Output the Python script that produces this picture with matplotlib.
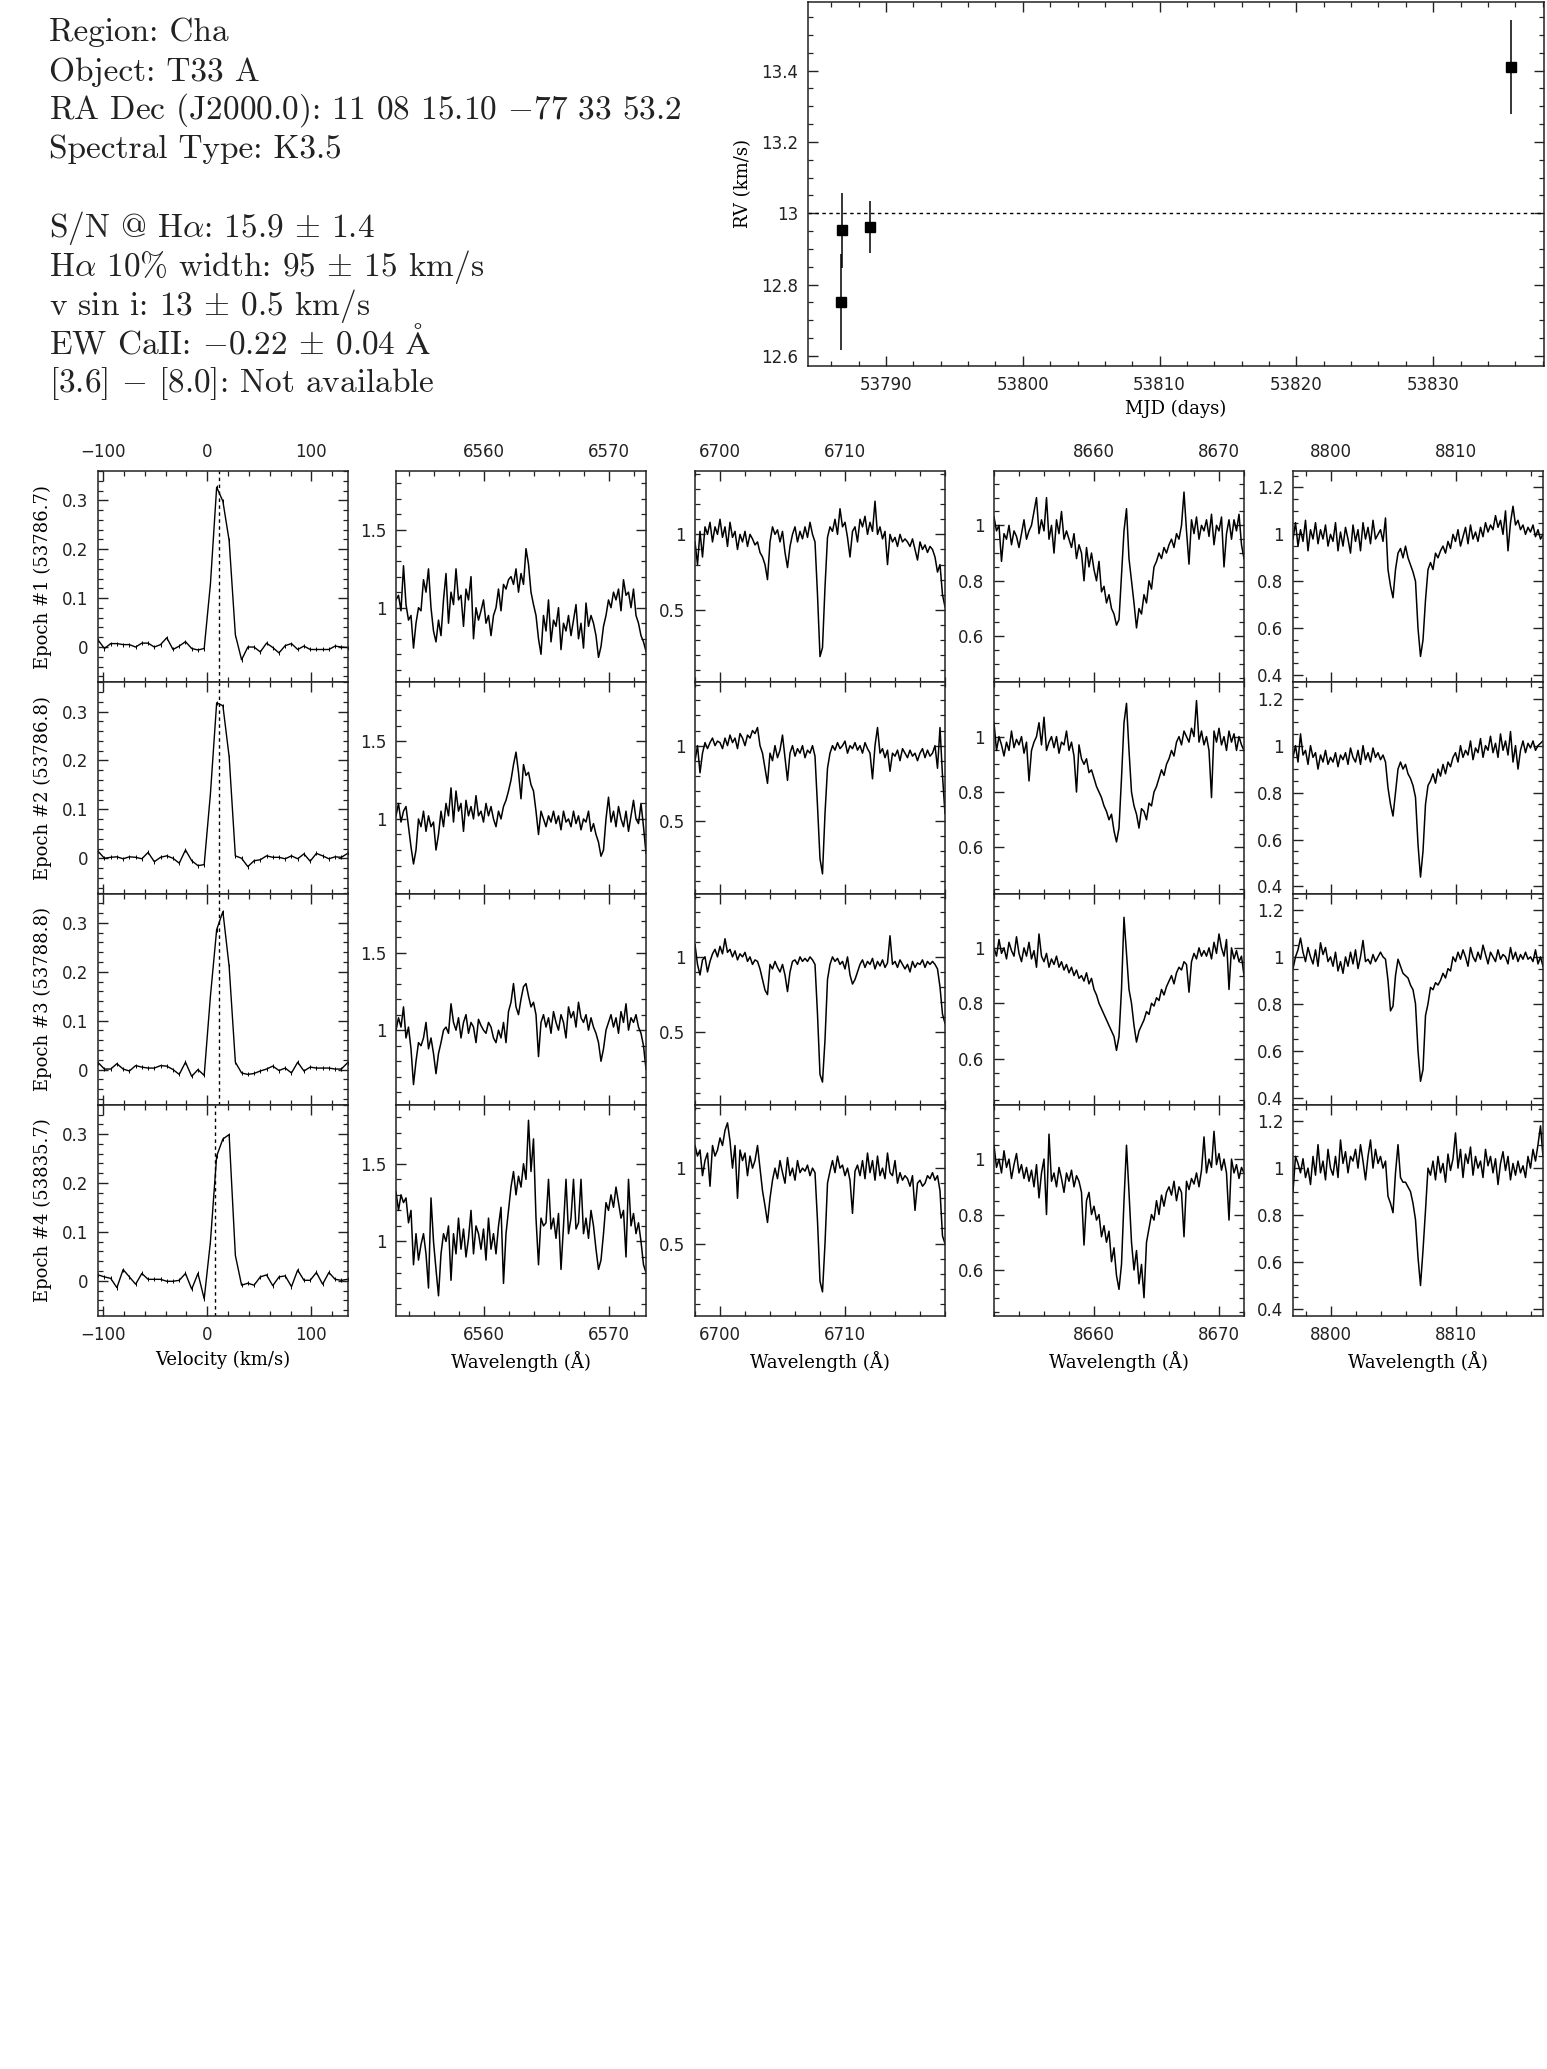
import matplotlib
matplotlib.use("Agg")
import matplotlib.pyplot as plt
import numpy as np
from matplotlib.ticker import MultipleLocator, FuncFormatter

# ---- header text ----
INFO_LINES = [
    "Region: Cha",
    "Object: T33 A",
    "RA Dec (J2000.0): 11 08 15.10 $-$77 33 53.2",
    "Spectral Type: K3.5",
    "S/N @ H$\\alpha$: 15.9 $\\pm$ 1.4",
    "H$\\alpha$ 10% width: 95 $\\pm$ 15 km/s",
    "v sin i: 13 $\\pm$ 0.5 km/s",
    "EW CaII: $-$0.22 $\\pm$ 0.04 $\\mathrm{\\AA}$",
    "[3.6] $-$ [8.0]: Not available",
]

# ---- radial velocity ----
RV_MJD = [53786.7, 53786.8, 53788.8, 53835.7]
RV_VAL = [12.752, 12.952, 12.961, 13.410]
RV_ERR = [0.135, 0.106, 0.073, 0.132]
RV_MEAN = 13.0

# ---- H-alpha cross-correlation profiles ----
EPOCH_LABELS = ["Epoch #1 (53786.7)", "Epoch #2 (53786.8)",
                "Epoch #3 (53788.8)", "Epoch #4 (53835.7)"]
CCF_LINE = [11.8, 11.8, 11.8, 7.3]

CCF_1 = [0.014, -0.003, 0.007, 0.007, 0.005, 0.005, 0.000, 0.008, 0.008, 0.000,
         0.005, 0.019, -0.005, 0.002, 0.011, -0.003, -0.006, -0.003, 0.129, 0.327,
         0.298, 0.218, 0.025, -0.026, 0.000, 0.000, -0.010, 0.008, -0.001, -0.012,
         0.003, 0.007, -0.005, 0.002, -0.005, -0.005, -0.005, -0.005, 0.002, 0.000, -0.001]
CCF_2 = [0.014, 0.000, 0.002, 0.003, -0.001, 0.003, 0.002, -0.001, 0.012, -0.007,
         0.002, 0.005, 0.000, -0.010, 0.017, -0.005, -0.015, -0.013, 0.132, 0.318,
         0.312, 0.208, 0.005, 0.000, -0.017, -0.005, -0.003, 0.005, 0.002, 0.002,
         -0.001, 0.005, -0.001, 0.009, -0.006, 0.010, 0.005, -0.001, 0.003, 0.002, 0.010]
CCF_3 = [0.014, 0.001, 0.001, 0.012, 0.001, -0.003, 0.008, 0.005, 0.003, 0.003,
         0.008, 0.007, 0.000, -0.010, 0.015, -0.014, 0.000, -0.012, 0.150, 0.286,
         0.323, 0.211, 0.015, -0.007, -0.010, -0.008, -0.003, 0.001, 0.007, -0.002,
         0.003, -0.007, 0.015, -0.003, 0.005, 0.003, 0.003, 0.003, 0.001, 0.001, 0.014]
CCF_4 = [0.012, 0.008, 0.005, -0.014, 0.023, 0.008, -0.007, 0.015, 0.003, 0.003,
         0.003, -0.001, -0.001, 0.001, 0.015, -0.017, 0.015, -0.037, 0.080, 0.255,
         0.290, 0.299, 0.052, -0.009, -0.005, -0.009, 0.008, 0.012, -0.010, 0.008,
         0.010, -0.012, 0.022, 0.001, 0.001, 0.017, -0.007, 0.017, 0.003, 0.001, 0.003]
VEL_START, VEL_END = -104.6, 134.8

# ---- spectra: 101 samples over 20 A each ----
HA_START, LI_START, CA_START, MG_START = 6553.0, 6698.0, 8652.0, 8797.0
SPAN = 20.0

HA_1 = [1.05, 1.08, 0.98, 1.27, 1.02, 0.92, 0.95, 0.74, 0.90, 1.00,
        0.98, 1.18, 1.10, 1.25, 1.00, 0.85, 0.78, 0.92, 0.82, 1.05,
        1.22, 0.90, 1.10, 1.02, 1.25, 1.05, 1.08, 0.88, 1.12, 1.05,
        1.20, 0.80, 1.00, 0.92, 0.98, 1.05, 0.90, 0.95, 0.82, 0.95,
        1.00, 1.12, 0.98, 1.15, 1.12, 1.18, 1.20, 1.15, 1.25, 1.10,
        1.22, 1.15, 1.38, 1.28, 1.10, 1.02, 0.95, 0.80, 0.70, 0.95,
        0.85, 1.05, 0.78, 0.92, 0.88, 1.00, 0.73, 0.90, 0.85, 0.95,
        0.82, 0.92, 1.02, 0.80, 0.90, 0.74, 1.03, 0.88, 0.95, 0.90,
        0.82, 0.68, 0.75, 0.88, 0.95, 1.05, 1.00, 1.10, 1.05, 1.12,
        0.98, 1.18, 1.08, 1.10, 1.00, 1.12, 0.95, 0.90, 0.82, 0.78, 0.72]
HA_2 = [1.02, 1.10, 0.98, 1.05, 1.08, 0.95, 0.82, 0.71, 0.80, 1.00,
        0.95, 1.05, 0.92, 1.02, 0.95, 0.98, 0.80, 0.90, 1.05, 0.95,
        1.10, 1.02, 1.20, 0.98, 1.18, 1.05, 1.10, 0.92, 1.12, 1.02,
        1.08, 1.00, 1.15, 1.02, 1.05, 0.98, 1.10, 1.02, 1.08, 1.00,
        0.95, 1.05, 1.00, 1.08, 1.12, 1.18, 1.25, 1.35, 1.43, 1.30,
        1.13, 1.35, 1.28, 1.30, 1.22, 1.18, 1.05, 0.90, 1.05, 1.00,
        0.95, 1.02, 0.98, 1.05, 0.97, 1.02, 0.93, 1.05, 0.98, 1.00,
        0.95, 1.05, 0.97, 1.02, 0.93, 1.00, 0.98, 1.05, 0.92, 0.97,
        0.90, 0.85, 0.76, 0.80, 1.00, 1.14, 0.98, 1.05, 0.95, 1.08,
        1.00, 0.95, 1.05, 0.92, 1.02, 1.12, 1.00, 0.97, 1.10, 0.95, 0.78]
HA_3 = [1.00, 1.08, 1.02, 1.15, 0.95, 1.02, 0.88, 0.65, 0.80, 0.92,
        0.90, 0.95, 1.05, 0.88, 0.95, 0.85, 0.72, 0.85, 0.92, 1.00,
        1.02, 0.98, 1.17, 1.05, 1.00, 1.08, 0.95, 1.05, 1.10, 0.98,
        1.05, 1.02, 0.92, 1.07, 1.03, 1.00, 0.98, 1.05, 1.02, 0.95,
        0.92, 1.00, 0.95, 1.05, 0.92, 1.12, 1.18, 1.30, 1.15, 1.10,
        1.20, 1.28, 1.30, 1.22, 1.15, 1.18, 1.10, 0.83, 1.05, 1.10,
        1.02, 1.08, 0.98, 1.12, 1.05, 1.00, 1.10, 1.05, 0.95, 1.15,
        1.08, 1.12, 1.02, 1.18, 1.08, 1.05, 1.10, 1.00, 1.08, 1.02,
        0.98, 0.92, 0.80, 0.88, 1.00, 1.05, 1.10, 1.02, 1.08, 0.98,
        1.12, 1.05, 1.17, 1.00, 1.08, 1.05, 1.10, 1.02, 0.98, 0.90, 0.75]
HA_4 = [1.32, 1.20, 1.30, 1.25, 1.28, 1.12, 1.20, 0.85, 1.05, 0.88,
        0.98, 1.05, 0.92, 0.70, 1.28, 1.00, 0.82, 0.65, 0.92, 1.05,
        1.00, 1.10, 0.75, 1.05, 0.92, 1.15, 0.95, 1.08, 0.90, 1.02,
        1.20, 0.92, 1.10, 1.05, 0.95, 1.08, 0.88, 1.15, 0.95, 1.05,
        0.92, 1.10, 1.22, 0.73, 1.05, 1.20, 1.35, 1.45, 1.30, 1.42,
        1.35, 1.50, 1.40, 1.78, 1.45, 1.66, 1.15, 0.85, 1.15, 1.10,
        1.12, 1.40, 1.08, 1.15, 1.02, 1.18, 0.82, 1.10, 1.40, 1.05,
        1.15, 1.40, 1.08, 1.12, 1.40, 1.05, 1.15, 1.02, 1.20, 1.10,
        0.95, 0.82, 0.88, 1.05, 1.25, 1.20, 1.30, 1.22, 1.35, 1.25,
        1.15, 1.20, 0.90, 1.40, 1.10, 1.18, 1.05, 1.12, 1.00, 0.85, 0.80]

LI_1 = [0.95, 0.80, 1.02, 0.85, 1.05, 1.00, 1.08, 0.95, 1.05, 1.00,
        1.10, 0.98, 1.05, 0.92, 1.08, 0.98, 1.02, 0.90, 1.00, 0.95,
        1.02, 0.92, 1.00, 0.97, 0.93, 0.95, 0.88, 0.85, 0.80, 0.70,
        0.95, 1.05, 1.00, 1.03, 0.95, 1.02, 0.88, 0.78, 0.92, 1.00,
        1.05, 0.95, 1.02, 0.97, 1.05, 0.98, 1.08, 1.00, 0.95, 0.60,
        0.19, 0.25, 0.65, 0.98, 1.05, 1.02, 1.10, 1.00, 1.17, 1.05,
        1.08, 0.98, 0.85, 1.02, 1.05, 0.95, 1.10, 1.05, 1.12, 1.00,
        1.08, 1.02, 1.22, 1.00, 1.05, 0.97, 1.02, 0.80, 1.00, 0.95,
        0.98, 0.92, 1.00, 0.95, 0.97, 0.95, 0.92, 0.97, 0.90, 0.83,
        0.95, 0.90, 0.93, 0.88, 0.92, 0.90, 0.85, 0.75, 0.80, 0.60, 0.52]
LI_2 = [0.90, 1.00, 0.82, 0.95, 1.02, 0.98, 1.02, 1.05, 1.00, 1.03,
        1.02, 0.98, 1.05, 1.00, 1.07, 1.02, 1.05, 0.98, 1.08, 1.05,
        1.00, 1.07, 1.05, 1.10, 1.08, 1.12, 1.00, 0.95, 0.85, 0.75,
        0.95, 0.90, 1.00, 0.92, 0.97, 1.07, 0.92, 0.77, 0.95, 1.00,
        0.93, 0.98, 0.95, 1.00, 0.92, 0.97, 0.95, 1.00, 0.93, 0.60,
        0.25, 0.15, 0.55, 0.85, 0.95, 1.00, 0.97, 1.02, 0.98, 1.00,
        1.03, 0.95, 1.00, 0.98, 1.02, 0.97, 1.00, 0.95, 1.02, 0.98,
        0.95, 0.78, 1.00, 1.12, 0.95, 0.98, 0.92, 0.97, 0.83, 0.95,
        0.93, 0.97, 0.90, 0.98, 0.95, 0.92, 0.97, 0.93, 0.95, 0.90,
        0.95, 0.98, 0.92, 0.97, 0.93, 0.95, 1.00, 0.85, 1.12, 0.80, 0.55]
LI_3 = [1.08, 0.95, 0.88, 0.98, 1.00, 0.90, 0.97, 1.02, 1.05, 1.00,
        1.07, 1.02, 1.12, 1.03, 1.05, 1.00, 1.04, 0.98, 1.02, 1.00,
        1.03, 0.97, 1.00, 0.95, 0.98, 0.97, 0.92, 0.85, 0.78, 0.75,
        0.95, 0.92, 0.97, 0.93, 0.90, 0.95, 0.88, 0.77, 0.90, 0.97,
        0.98, 0.95, 1.00, 0.97, 0.99, 0.97, 1.00, 0.98, 0.95, 0.62,
        0.22, 0.17, 0.45, 0.85, 0.95, 1.00, 0.97, 0.99, 0.95, 0.97,
        0.92, 1.00, 0.88, 0.82, 0.85, 0.90, 0.95, 0.98, 0.93, 0.97,
        0.95, 0.99, 0.92, 0.97, 0.94, 0.98, 0.93, 0.96, 1.14, 0.95,
        0.97, 0.93, 0.98, 0.95, 0.92, 0.95, 0.90, 0.97, 0.93, 0.96,
        0.95, 0.98, 0.93, 0.97, 0.95, 0.97, 0.95, 0.92, 0.80, 0.62, 0.56]
LI_4 = [1.15, 1.08, 1.12, 0.95, 1.05, 1.10, 0.88, 1.15, 1.08, 1.12,
        1.20, 1.15, 1.25, 1.30, 1.18, 1.00, 1.15, 0.80, 1.12, 1.05,
        1.10, 0.95, 1.08, 1.00, 1.05, 1.15, 1.00, 0.85, 0.75, 0.64,
        0.80, 0.92, 1.00, 0.93, 1.05, 0.97, 0.90, 1.07, 0.95, 1.00,
        0.92, 1.05, 0.97, 1.00, 0.98, 1.02, 0.95, 1.00, 0.97, 0.65,
        0.25, 0.18, 0.50, 0.90, 0.98, 1.05, 0.97, 1.08, 1.00, 1.02,
        0.95, 1.00, 0.92, 0.70, 0.98, 1.02, 0.95, 1.05, 0.93, 1.10,
        0.97, 1.05, 0.92, 1.08, 0.95, 1.00, 0.93, 1.10, 0.97, 0.95,
        1.05, 0.90, 0.97, 0.92, 0.95, 0.93, 0.88, 0.95, 0.72, 0.90,
        0.92, 0.88, 0.90, 0.95, 0.93, 0.97, 0.92, 0.95, 0.85, 0.55, 0.50]

CA_1 = [1.03, 0.98, 1.00, 0.87, 0.97, 0.95, 1.00, 0.93, 0.98, 0.96,
        0.92, 0.97, 1.02, 0.95, 0.98, 1.00, 1.05, 1.10, 0.97, 1.02,
        0.98, 1.10, 0.95, 1.00, 0.90, 1.02, 0.97, 1.05, 0.95, 0.98,
        0.95, 0.92, 0.97, 0.88, 0.93, 0.90, 0.80, 0.92, 0.85, 0.90,
        0.84, 0.80, 0.87, 0.76, 0.78, 0.72, 0.75, 0.70, 0.68, 0.64,
        0.66, 0.82, 0.98, 1.06, 0.88, 0.80, 0.72, 0.63, 0.70, 0.68,
        0.75, 0.72, 0.80, 0.77, 0.85, 0.87, 0.90, 0.88, 0.92, 0.90,
        0.93, 0.95, 0.92, 0.97, 0.95, 1.00, 1.12, 0.98, 0.86, 1.02,
        0.97, 1.03, 0.95, 1.00, 0.98, 1.02, 0.96, 1.04, 0.93, 1.00,
        0.98, 1.03, 0.85, 0.97, 1.02, 0.95, 1.02, 0.98, 1.04, 0.93, 0.88]
CA_2 = [1.05, 0.95, 1.00, 0.97, 0.93, 0.98, 0.95, 1.02, 0.96, 0.99,
        0.97, 1.00, 0.94, 0.98, 0.84, 0.95, 0.98, 1.00, 1.05, 0.97,
        1.07, 0.95, 0.98, 1.00, 0.96, 1.00, 0.94, 0.98, 0.97, 1.02,
        0.95, 0.98, 0.93, 0.80, 0.97, 0.92, 0.90, 0.92, 0.87, 0.88,
        0.85, 0.82, 0.80, 0.78, 0.75, 0.73, 0.70, 0.72, 0.66, 0.62,
        0.67, 0.85, 1.05, 1.12, 0.95, 0.80, 0.75, 0.72, 0.67, 0.74,
        0.73, 0.70, 0.76, 0.75, 0.80, 0.82, 0.85, 0.88, 0.86, 0.90,
        0.92, 0.95, 0.93, 0.98, 1.00, 0.97, 1.02, 1.00, 0.98, 1.03,
        1.00, 1.13, 0.98, 1.02, 0.97, 1.00, 0.95, 0.78, 1.02, 0.98,
        1.03, 0.97, 1.00, 0.95, 1.02, 0.98, 1.01, 0.95, 1.00, 0.97, 0.95]
CA_3 = [1.00, 0.97, 1.03, 0.98, 1.00, 0.96, 1.02, 0.99, 0.97, 1.04,
        0.98, 0.95, 1.00, 0.97, 1.02, 0.96, 0.99, 0.93, 1.05, 0.97,
        0.95, 0.98, 0.93, 0.96, 0.94, 0.97, 0.93, 0.95, 0.92, 0.94,
        0.91, 0.93, 0.90, 0.92, 0.89, 0.90, 0.88, 0.91, 0.87, 0.89,
        0.85, 0.83, 0.80, 0.78, 0.76, 0.74, 0.72, 0.70, 0.68, 0.63,
        0.68, 0.85, 1.11, 0.98, 0.85, 0.80, 0.72, 0.66, 0.70, 0.72,
        0.74, 0.77, 0.76, 0.80, 0.79, 0.82, 0.81, 0.85, 0.83, 0.86,
        0.88, 0.90, 0.87, 0.91, 0.93, 0.92, 0.95, 0.94, 0.84, 0.95,
        0.98, 0.96, 1.00, 0.97, 0.99, 0.97, 1.00, 0.96, 1.02, 0.98,
        1.05, 1.00, 0.97, 1.03, 0.85, 1.00, 0.96, 0.99, 0.95, 0.97, 0.90]
CA_4 = [1.05, 0.97, 1.00, 0.95, 1.03, 0.97, 1.00, 0.93, 0.98, 1.02,
        0.95, 0.98, 0.93, 0.97, 0.92, 0.96, 0.90, 0.98, 0.86, 0.95,
        1.00, 0.80, 1.09, 0.92, 0.95, 0.90, 0.97, 0.93, 0.88, 0.95,
        0.92, 0.96, 0.90, 0.94, 0.92, 0.88, 0.69, 0.85, 0.88, 0.80,
        0.83, 0.78, 0.80, 0.72, 0.76, 0.70, 0.74, 0.63, 0.68, 0.58,
        0.53, 0.62, 0.85, 1.05, 0.88, 0.70, 0.60, 0.67, 0.55, 0.62,
        0.50, 0.70, 0.75, 0.80, 0.78, 0.85, 0.80, 0.87, 0.83, 0.88,
        0.90, 0.87, 0.92, 0.85, 0.90, 0.88, 0.72, 0.92, 0.89, 0.93,
        0.91, 0.95, 0.90, 0.96, 1.08, 0.95, 1.00, 0.97, 1.10, 0.98,
        1.02, 0.96, 1.00, 0.95, 0.78, 1.00, 0.95, 0.98, 0.93, 0.97, 0.95]

MG_1 = [0.98, 1.05, 0.95, 1.02, 0.97, 1.06, 0.93, 1.02, 0.98, 1.05,
        0.96, 1.02, 0.98, 1.04, 0.95, 1.00, 0.97, 1.05, 0.93, 1.01,
        0.95, 1.03, 0.98, 0.92, 1.04, 0.97, 1.02, 0.93, 1.05, 0.98,
        1.03, 0.96, 1.06, 0.98, 1.00, 1.02, 0.97, 1.07, 0.85, 0.78,
        0.73, 0.85, 0.92, 0.94, 0.90, 0.95, 0.90, 0.87, 0.84, 0.80,
        0.60, 0.48, 0.55, 0.72, 0.85, 0.88, 0.85, 0.92, 0.90, 0.93,
        0.95, 0.92, 0.97, 0.94, 1.00, 0.97, 1.02, 0.95, 0.99, 1.03,
        0.96, 1.04, 0.98, 1.01, 0.97, 1.03, 0.99, 1.05, 1.01, 1.04,
        1.02, 1.08, 1.03, 1.06, 1.00, 1.10, 0.93, 1.05, 1.12, 1.04,
        1.06, 1.02, 1.04, 1.00, 1.03, 1.01, 1.04, 0.99, 1.02, 0.98, 1.00]
MG_2 = [0.95, 1.00, 0.93, 1.05, 0.96, 0.98, 0.92, 1.00, 0.95, 0.97,
        0.90, 0.96, 0.93, 0.98, 0.92, 0.95, 0.93, 0.97, 0.91, 0.96,
        0.94, 0.97, 0.92, 0.99, 0.95, 0.93, 0.98, 0.92, 1.00, 0.94,
        0.97, 0.93, 0.99, 0.95, 0.97, 0.94, 0.96, 0.93, 0.82, 0.75,
        0.70, 0.80, 0.90, 0.93, 0.90, 0.92, 0.88, 0.86, 0.83, 0.78,
        0.58, 0.44, 0.55, 0.75, 0.83, 0.85, 0.88, 0.84, 0.90, 0.87,
        0.92, 0.88, 0.93, 0.91, 0.95, 0.97, 0.93, 1.00, 0.95, 0.98,
        0.96, 1.02, 0.94, 0.99, 0.97, 1.03, 0.95, 1.00, 0.98, 1.04,
        0.97, 1.01, 0.95, 1.05, 0.98, 1.02, 0.96, 1.06, 0.93, 1.00,
        0.90, 0.98, 1.02, 0.97, 1.01, 0.99, 1.02, 0.98, 1.00, 1.01, 1.02]
MG_3 = [0.95, 1.00, 1.03, 1.08, 1.02, 0.98, 1.04, 1.00, 0.97, 1.03,
        0.96, 1.06, 1.01, 1.04, 0.98, 1.00, 0.96, 1.02, 0.94, 0.98,
        0.93, 1.00, 0.96, 1.02, 0.97, 1.03, 0.95, 1.00, 1.07, 0.98,
        0.99, 0.97, 1.01, 0.98, 1.00, 1.02, 1.00, 0.99, 0.90, 0.77,
        0.79, 0.92, 0.99, 0.96, 0.93, 0.92, 0.91, 0.88, 0.86, 0.80,
        0.60, 0.47, 0.52, 0.75, 0.80, 0.87, 0.86, 0.89, 0.88, 0.90,
        0.93, 0.91, 0.95, 0.94, 1.00, 0.98, 1.02, 0.99, 1.03, 1.00,
        0.96, 1.04, 1.00, 0.98, 1.02, 0.99, 1.05, 1.01, 0.97, 1.02,
        1.00, 0.98, 1.03, 0.99, 1.01, 1.00, 0.97, 1.04, 0.99, 1.02,
        0.98, 1.01, 0.99, 1.02, 0.99, 1.00, 0.98, 1.03, 0.97, 1.00, 0.96]
MG_4 = [0.90, 1.05, 1.02, 0.98, 1.04, 0.96, 1.00, 0.93, 1.05, 0.97,
        1.10, 0.98, 1.03, 0.95, 1.08, 1.00, 0.97, 1.05, 0.96, 1.12,
        1.02, 1.07, 0.98, 1.05, 1.03, 1.08, 1.00, 1.10, 1.03, 0.95,
        1.05, 1.12, 1.00, 1.08, 1.02, 1.05, 1.00, 1.03, 0.88, 0.85,
        0.81, 0.98, 1.10, 0.96, 0.94, 0.94, 0.92, 0.90, 0.85, 0.78,
        0.62, 0.50, 0.65, 0.82, 1.00, 0.97, 1.03, 0.95, 1.05, 0.98,
        1.02, 0.94, 1.06, 0.99, 1.04, 1.15, 1.00, 1.08, 0.96, 1.06,
        1.02, 1.09, 0.97, 1.05, 1.00, 1.03, 0.96, 1.08, 1.01, 1.05,
        0.98, 1.04, 0.93, 1.02, 1.07, 0.99, 1.05, 0.95, 1.02, 0.97,
        1.03, 0.98, 1.01, 0.96, 1.05, 1.00, 1.08, 1.03, 1.10, 1.18, 1.05]

# ---- layout (pixels of the 1547x2069 canvas) ----
W, H = 1547, 2069
COL_LEFT = [98, 396, 695, 994, 1293]
COL_W = 250
ROW_TOP, ROW_H = 471, 211.25

plt.rcParams.update({
    "font.family": "DejaVu Sans",
    "mathtext.fontset": "cm",
    "axes.linewidth": 1.1,
    "axes.edgecolor": "#222222",
    "xtick.direction": "in",
    "ytick.direction": "in",
    "xtick.top": True,
    "ytick.right": True,
    "xtick.color": "#222222",
    "ytick.color": "#222222",
})


def rect(l, t, r, b):
    return [l / W, 1 - b / H, (r - l) / W, (b - t) / H]


fmt = FuncFormatter(lambda v, p: ("%g" % round(v, 6)).replace("-", "\u2212"))

fig = plt.figure(figsize=(W / 100, H / 100), dpi=100)

# header block
baselines = [41, 81, 119, 158, 237, 276, 315, 354, 392]
for txt, yb in zip(INFO_LINES, baselines):
    fig.text(49 / W, 1 - yb / H, txt, fontsize=24, family="cmr10",
             va="baseline", ha="left", color="#222222")

# RV panel
ax = fig.add_axes(rect(808, 2, 1544, 366))
ax.errorbar(RV_MJD, RV_VAL, yerr=RV_ERR, fmt="s", color="k", ms=6.5,
            elinewidth=1.1, capsize=0)
ax.axhline(RV_MEAN, color="k", ls=(0, (2.5, 2.5)), lw=1.0)
ax.set_xlim(53784.3, 53838.1)
ax.set_ylim(12.572, 13.592)
ax.xaxis.set_major_locator(MultipleLocator(10))
ax.xaxis.set_minor_locator(MultipleLocator(2))
ax.yaxis.set_major_locator(MultipleLocator(0.2))
ax.yaxis.set_minor_locator(MultipleLocator(0.05))
ax.yaxis.set_major_formatter(fmt)
ax.tick_params(which="major", length=7, width=1.0, labelsize=12, pad=7)
ax.tick_params(which="minor", length=3.5, width=0.9)
ax.set_xlabel("MJD (days)", family="DejaVu Serif", fontsize=13, labelpad=4)
ax.set_ylabel("RV (km/s)", family="DejaVu Serif", fontsize=13)
ax.yaxis.set_label_coords(-0.076, 0.5)

# spectra grid
velocity = np.linspace(VEL_START, VEL_END, len(CCF_1))
ccfs = [CCF_1, CCF_2, CCF_3, CCF_4]
spectra = [
    (HA_START, [HA_1, HA_2, HA_3, HA_4], (0.52, 1.88), 0.5, 0.1),
    (LI_START, [LI_1, LI_2, LI_3, LI_4], (0.02, 1.42), 0.5, 0.1),
    (CA_START, [CA_1, CA_2, CA_3, CA_4], (0.434, 1.196), 0.2, 0.05),
    (MG_START, [MG_1, MG_2, MG_3, MG_4], (0.37, 1.27), 0.2, 0.05),
]

for r in range(4):
    top = ROW_TOP + r * ROW_H
    for c in range(5):
        ax = fig.add_axes(rect(COL_LEFT[c], top, COL_LEFT[c] + COL_W, top + ROW_H))
        if c == 0:
            ax.plot(velocity, ccfs[r], color="k", lw=1.0, marker="|", ms=3, mew=0.7)
            ax.axvline(CCF_LINE[r], color="k", ls=(0, (2.5, 2.5)), lw=1.0)
            ax.set_xlim(-104.8, 135.2)
            ax.set_ylim(-0.072, 0.36)
            ax.xaxis.set_major_locator(MultipleLocator(100))
            ax.xaxis.set_minor_locator(MultipleLocator(20))
            ax.yaxis.set_major_locator(MultipleLocator(0.1))
            ax.yaxis.set_minor_locator(MultipleLocator(0.02))
            ax.set_ylabel(EPOCH_LABELS[r], family="DejaVu Serif", fontsize=13)
            ax.yaxis.set_label_coords(-0.185, 0.5)
            xlab = "Velocity (km/s)"
        else:
            start, flux, ylim, ymaj, ymin = spectra[c - 1]
            wave = np.linspace(start, start + SPAN, len(flux[r]))
            ax.plot(wave, flux[r], color="k", lw=1.1)
            ax.set_xlim(start, start + SPAN)
            ax.set_ylim(*ylim)
            ax.xaxis.set_major_locator(MultipleLocator(10))
            ax.xaxis.set_minor_locator(MultipleLocator(2))
            ax.yaxis.set_major_locator(MultipleLocator(ymaj))
            ax.yaxis.set_minor_locator(MultipleLocator(ymin))
            xlab = "Wavelength (\u00c5)"
        ax.xaxis.set_major_formatter(fmt)
        ax.yaxis.set_major_formatter(fmt)
        ax.tick_params(which="major", length=7, width=1.0, labelsize=12, pad=7,
                       labeltop=(r == 0), labelbottom=(r == 3))
        ax.tick_params(which="minor", length=3.5, width=0.9)
        if r == 3:
            ax.set_xlabel(xlab, family="DejaVu Serif", fontsize=13, labelpad=5)

fig.savefig("out.png", dpi=100, facecolor="white")
